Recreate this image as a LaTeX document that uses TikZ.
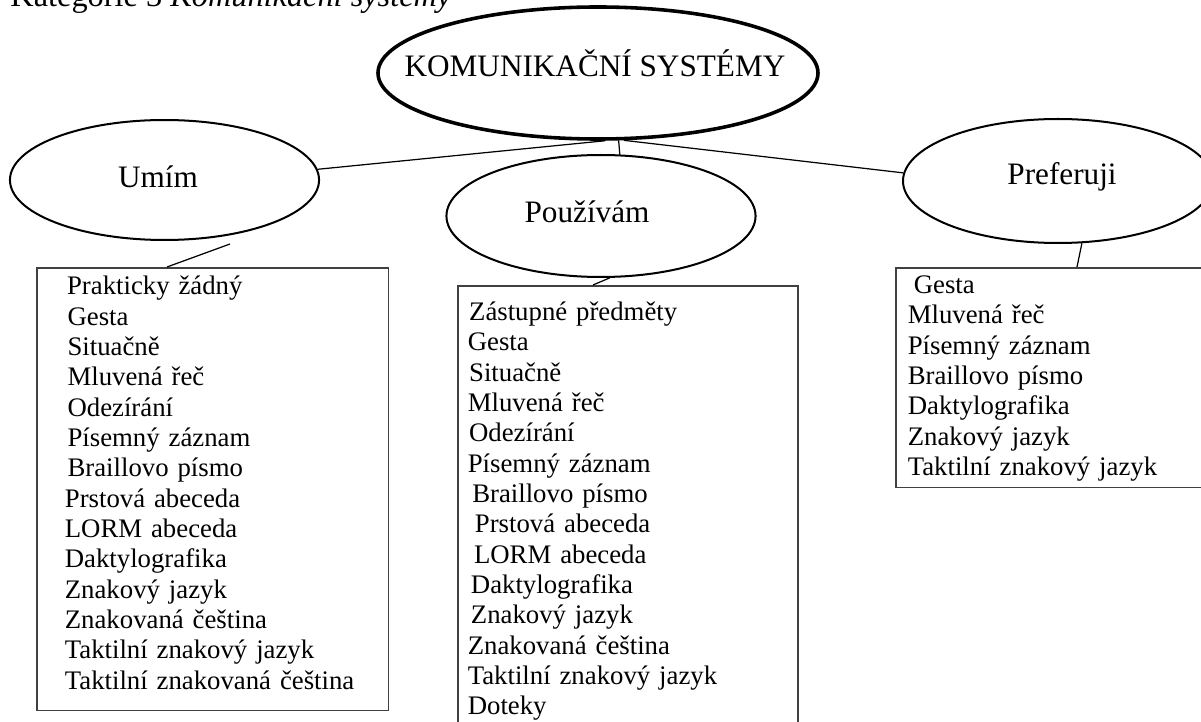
\documentclass[tikz,border=0pt]{standalone}
\usepackage{fontspec}
\setmainfont{Liberation Serif}
\usetikzlibrary{shapes.geometric}
\newcommand{\px}{0.4484pt}
\newcommand{\toprow}[1]{\rule{0pt}{#1}}
\newcommand{\lastrow}[1]{\rule[-#1]{0pt}{#1}}
\tikzset{
  oval/.style={ellipse, draw=black, line width=0.9pt, inner sep=0pt},
  bigoval/.style={oval, line width=1.6pt},
  ovtxt/.style={inner sep=0pt, font=\fontsize{14}{16.8}\selectfont},
  lst/.style={rectangle, draw=black!75, line width=0.7pt, anchor=north west, align=left, inner ysep=0pt, font=\fontsize{12}{13.6}\selectfont},
  con/.style={draw=black, line width=0.55pt},
  heading/.style={inner sep=0pt, anchor=base west, font=\fontsize{14.5}{17}\selectfont},
}

\begin{document}
\begin{tikzpicture}[x=\px, y=-\px]
  \useasboundingbox (0,0) rectangle (1201,722);
  \clip (0,0) rectangle (1201,722);
  \node[heading] (kat) at (10,7) {Kategorie 3 \textit{Komunikační systémy}};
  % ovals
  \node[bigoval, minimum width=197.3pt, minimum height=59.2pt] (kom) at (598,73) {};
  \node[oval, minimum width=138.6pt, minimum height=53.8pt] (umim) at (164.5,180) {};
  \node[oval, minimum width=138.6pt, minimum height=54.7pt] (pouz) at (601,216) {};
  \node[oval, minimum width=139pt, minimum height=55.6pt] (pref) at (1058,181) {};
  \node[ovtxt] (kom-t) at (595,63) {KOMUNIKAČNÍ SYSTÉMY};
  \node[ovtxt] (umim-t) at (158,177) {Umím};
  \node[ovtxt] (pouz-t) at (587,212) {Používám};
  \node[ovtxt] (pref-t) at (1062,177) {Preferuji};
  % lists
  \node[lst, minimum width=157.8pt, text width=132.6pt, inner xsep=12.6pt] (lbox) at (36,267) {%
    \toprow{12.1pt}\hspace*{1pt}Prakticky žádný\\ \hspace*{1.2pt}Gesta\\ \hspace*{1.2pt}Situačně\\ \hspace*{1.2pt}Mluvená řeč\\
    \hspace*{1.2pt}Odezírání\\ \hspace*{1.2pt}Písemný záznam\\ \hspace*{1.2pt}Braillovo písmo\\ Prstová abeceda\\
    LORM abeceda\\ Daktylografika\\ Znakový jazyk\\ Znakovaná čeština\\
    Taktilní znakový jazyk\\ Taktilní znakovaná čeština\lastrow{9.7pt}};
  \node[lst, minimum width=152.5pt, text width=143.5pt, inner xsep=4.5pt] (mbox) at (457,285) {%
    \toprow{15.6pt}\hspace*{0.6pt}Zástupné předměty\\ Gesta\\ \hspace*{0.6pt}Situačně\\ Mluvená řeč\\ \hspace*{0.6pt}Odezírání\\
    Písemný záznam\\ \hspace*{2pt}Braillovo písmo\\ \hspace*{3.2pt}Prstová abeceda\\ \hspace*{2.8pt}LORM abeceda\\
    \hspace*{1.4pt}Daktylografika\\ \hspace*{1.4pt}Znakový jazyk\\ Znakovaná čeština\\
    Taktilní znakový jazyk\\ Doteky\lastrow{9pt}};
  \node[lst, minimum width=148pt, text width=137.2pt, inner xsep=5.4pt] (rbox) at (895,267) {%
    \toprow{11.6pt}\hspace*{2.7pt}Gesta\\ Mluvená řeč\\ Písemný záznam\\ Braillovo písmo\\
    Daktylografika\\ Znakový jazyk\\ Taktilní znakový jazyk\lastrow{5.4pt}};
  % connectors
  \draw[con] (umim.4) -- (kom.-84);
  \draw[con] (kom.-69) -- (pref.177);
  \draw[con] (kom.-73) -- (pouz.73);
  \draw[con] ([shift={(65.5,3)}]umim.south) -- ([shift={(131,0)}]lbox.north west);
  \draw[con] (pouz.-82) -- ([shift={(136,0)}]mbox.north west);
  \draw[con] (pref.-69) -- ([shift={(182,0)}]rbox.north west);
\end{tikzpicture}
\end{document}
